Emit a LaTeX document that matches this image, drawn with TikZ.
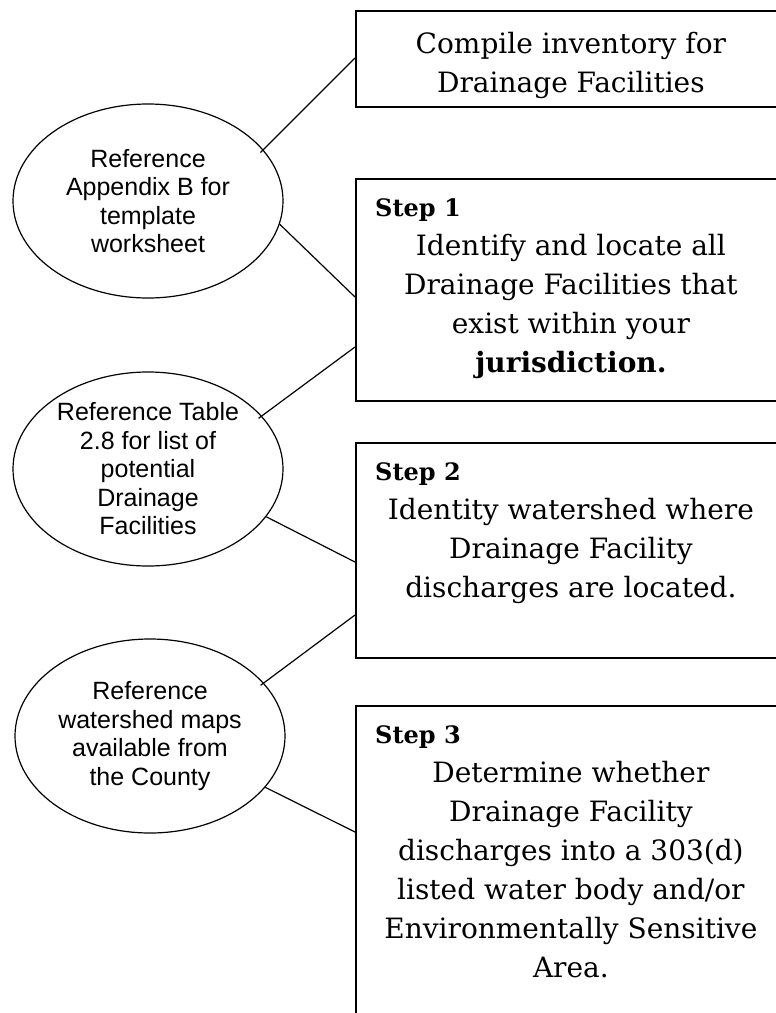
\documentclass[tikz,border=0pt]{standalone}
\usepackage{fontspec}
\setmainfont{DejaVu Serif}
\setsansfont{Liberation Sans}
\usetikzlibrary{positioning, shapes.geometric}

\begin{document}
\begin{tikzpicture}[
    x=1pt, y=-1pt,
    every node/.style={align=center, inner sep=0pt},
    stepbox/.style={draw, line width=1.8pt, anchor=north west, minimum width=430pt},
    refnote/.style={draw, ellipse, line width=1.2pt, minimum width=270pt, minimum height=194pt,
        font=\sffamily\fontsize{25}{28.5}\selectfont},
    boxtext/.style={font=\fontsize{28}{39}\selectfont},
    steplabel/.style={font=\bfseries\fontsize{24}{28}\selectfont},
    link/.style={line width=1.2pt}
]
    \clip (0,0) rectangle (776,1013);

    % Boxes
    \node[stepbox, minimum height=96pt] (inv) at (355,10) {};
    \node[stepbox, minimum height=222pt] (s1) at (355,178) {};
    \node[stepbox, minimum height=215pt] (s2) at (355,442) {};
    \node[stepbox, minimum height=340pt] (s3) at (355,705) {};

    % Box texts
    \node[boxtext, below=22pt of inv.north] (invtxt) {Compile inventory for\\Drainage Facilities};

    \node[steplabel, below right=20pt and 20pt of s1.north west] (s1lbl) {Step 1};
    \node[boxtext, below=56pt of s1.north] (s1txt) {Identify and locate all\\Drainage Facilities that\\exist within your\\{\bfseries jurisdiction.}};

    \node[steplabel, below right=20pt and 20pt of s2.north west] (s2lbl) {Step 2};
    \node[boxtext, below=56pt of s2.north] (s2txt) {Identity watershed where\\Drainage Facility\\discharges are located.};

    \node[steplabel, below right=20pt and 20pt of s3.north west] (s3lbl) {Step 3};
    \node[boxtext, below=56pt of s3.north] (s3txt) {Determine whether\\Drainage Facility\\discharges into a 303(d)\\listed water body and/or\\Environmentally Sensitive\\Area.};

    % Reference notes
    \node[refnote] (refB) at (148,201) {Reference\\Appendix B for\\template\\worksheet};
    \node[refnote] (refT) at (148,469) {Reference Table\\2.8 for list of\\potential\\Drainage\\Facilities};
    \node[refnote] (refW) at (150,736) {Reference\\watershed maps\\available from\\the County};

    % Links
    \draw[link, shorten <=-4pt] (refB.24) -- ([yshift=-48pt]inv.north west);
    \draw[link] (refB.-10) -- ([yshift=-119pt]s1.north west);
    \draw[link, shorten <=-4pt] (refT.25) -- ([yshift=-169pt]s1.north west);
    \draw[link] (refT.-22) -- ([yshift=-120pt]s2.north west);
    \draw[link, shorten <=-4pt] (refW.25) -- ([yshift=-173pt]s2.north west);
    \draw[link] (refW.-24) -- ([yshift=-127pt]s3.north west);
\end{tikzpicture}
\end{document}
